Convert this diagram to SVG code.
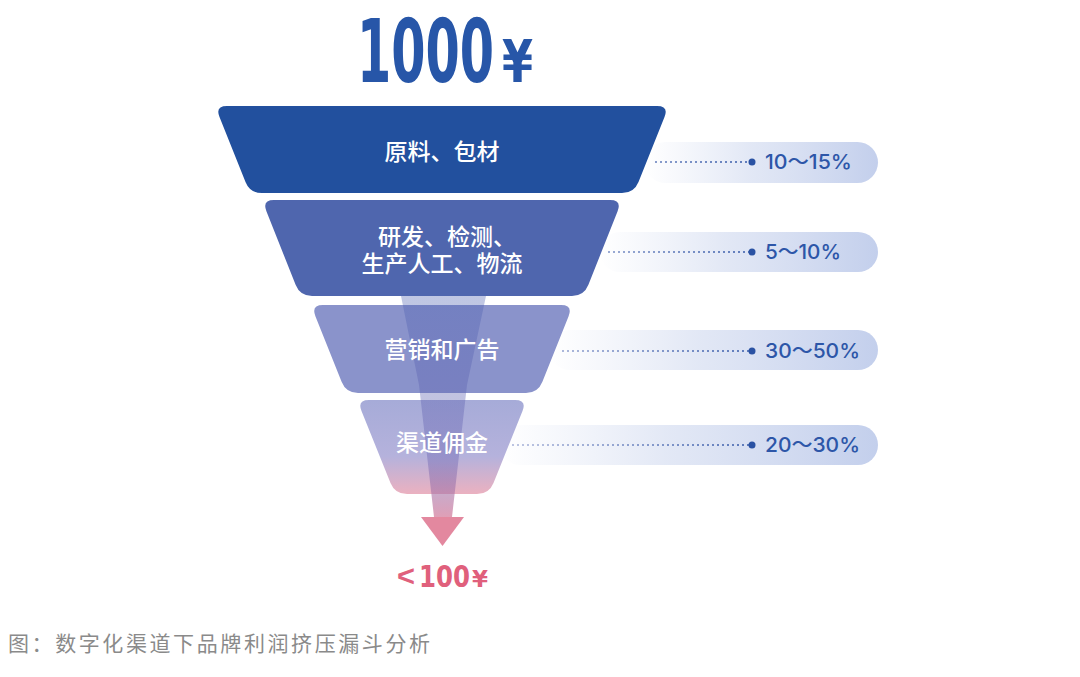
<svg xmlns="http://www.w3.org/2000/svg" width="1080" height="677" viewBox="0 0 1080 677">
<defs>
<linearGradient id="g4" x1="0" y1="0" x2="0" y2="1">
<stop offset="0" stop-color="#a6abd8"/>
<stop offset="0.6" stop-color="#b5b2dc"/>
<stop offset="1" stop-color="#ebb1c0"/>
</linearGradient>
<linearGradient id="band" x1="0" y1="0" x2="0" y2="1">
<stop offset="0" stop-color="#4a5fb0" stop-opacity="0.35"/>
<stop offset="0.75" stop-color="#6a62b0" stop-opacity="0.4"/>
<stop offset="1" stop-color="#d57f9e" stop-opacity="0.75"/>
</linearGradient>
<linearGradient id="pill" x1="0" y1="0" x2="1" y2="0">
<stop offset="0" stop-color="#dfe5f4" stop-opacity="0"/>
<stop offset="0.45" stop-color="#dbe2f3" stop-opacity="0.8"/>
<stop offset="1" stop-color="#c3cfec"/>
</linearGradient>
<linearGradient id="dots" gradientUnits="userSpaceOnUse" x1="520" y1="0" x2="750" y2="0">
<stop offset="0" stop-color="#a7b2d8"/>
<stop offset="1" stop-color="#3458a8"/>
</linearGradient>
</defs>
<style>
.lbl{font-family:"Noto Sans CJK SC","Noto Sans",sans-serif;font-size:23px;fill:#ffffff;font-weight:500}
.pct{font-family:Inter,"Noto Sans","Noto Sans CJK SC",sans-serif;font-size:20px;fill:#2d56a8;font-weight:500}
.dl{stroke:url(#dots);stroke-width:1.6;stroke-dasharray:2 3;fill:none}
.dot{fill:#2a52a3}
.big{font-family:"Liberation Sans Narrow","DejaVu Sans Condensed","Liberation Sans",sans-serif;font-weight:bold}
</style>
<rect width="1080" height="677" fill="#ffffff"/>

<g id="title">
<text class="big" x="357" y="82" font-size="88" fill="#2756a8" textLength="137" lengthAdjust="spacingAndGlyphs">1000</text>
<text class="big" x="502" y="82" font-size="58" fill="#2756a8" textLength="31" lengthAdjust="spacingAndGlyphs">¥</text>
</g>

<g id="pills">
<rect x="645" y="142" width="233" height="41" rx="20.5" fill="url(#pill)"/>
<rect x="600" y="232" width="278" height="40" rx="20" fill="url(#pill)"/>
<rect x="550" y="330" width="328" height="40" rx="20" fill="url(#pill)"/>
<rect x="500" y="425" width="378" height="40" rx="20" fill="url(#pill)"/>
</g>

<g id="connectors">
<line class="dl" x1="655" y1="162" x2="750" y2="162"/>
<circle class="dot" cx="752" cy="162" r="3.5"/>
<line class="dl" x1="608" y1="252" x2="750" y2="252"/>
<circle class="dot" cx="752" cy="252" r="3.5"/>
<line class="dl" x1="562" y1="351" x2="750" y2="351"/>
<circle class="dot" cx="752" cy="351" r="3.5"/>
<line class="dl" x1="512" y1="445" x2="750" y2="445"/>
<circle class="dot" cx="752" cy="445" r="3.5"/>
</g>

<g id="pcts">
<text class="pct" x="765" y="169" textLength="87" lengthAdjust="spacingAndGlyphs">10～15%</text>
<text class="pct" x="765" y="259" textLength="76" lengthAdjust="spacingAndGlyphs">5～10%</text>
<text class="pct" x="765" y="358" textLength="95" lengthAdjust="spacingAndGlyphs">30～50%</text>
<text class="pct" x="765" y="452" textLength="95" lengthAdjust="spacingAndGlyphs">20～30%</text>
</g>

<g id="layer1">
<path d="M 227,106 L 657,106 Q 669,106 664.5,117.1 L 638.5,181.9 Q 634,193 622,193 L 262,193 Q 250,193 245.5,181.9 L 219.5,117.1 Q 215,106 227,106 Z" fill="#22509e"/>
<text class="lbl" x="442" y="160" text-anchor="middle">原料、包材</text>
</g>

<g id="layer2">
<path d="M 274,200 L 610,200 Q 622,200 617.6,211.2 L 588.4,284.8 Q 584,296 572,296 L 312,296 Q 300,296 295.6,284.8 L 266.4,211.2 Q 262,200 274,200 Z" fill="#4f66ae"/>
<text class="lbl" x="378" y="245">研发、检测、</text>
<text class="lbl" x="442" y="272" text-anchor="middle">生产人工、物流</text>
</g>

<g id="layer3">
<path d="M 323,305 L 561,305 Q 573,305 568.6,316.2 L 542.4,381.8 Q 538,393 526,393 L 358,393 Q 346,393 341.6,381.8 L 315.4,316.2 Q 311,305 323,305 Z" fill="#8a93cb"/>
</g>

<g id="layer4">
<path d="M 369,400 L 515,400 Q 527,400 522.5,411.1 L 493.5,482.9 Q 489,494 477,494 L 407,494 Q 395,494 390.5,482.9 L 361.5,411.1 Q 357,400 369,400 Z" fill="url(#g4)"/>
</g>

<g id="arrow">
<polygon points="401,296 486,296 467,385 452,517 434,517 419,385" fill="url(#band)"/>
<polygon points="421,517 464,517 442.5,546" fill="#e3889f"/>
</g>

<g id="labels34">
<text class="lbl" x="442" y="358" text-anchor="middle">营销和广告</text>
<text class="lbl" x="442" y="451" text-anchor="middle">渠道佣金</text>
</g>

<g id="result">
<text x="397" y="586" font-family="'Liberation Sans',sans-serif" font-weight="bold" font-size="30" fill="#e0607c" textLength="18" lengthAdjust="spacingAndGlyphs">&lt;</text>
<text class="big" x="419" y="587" font-size="30" fill="#e0607c" textLength="51" lengthAdjust="spacingAndGlyphs">100</text>
<text class="big" x="472" y="587" font-size="23" fill="#e0607c" textLength="16" lengthAdjust="spacingAndGlyphs">¥</text>
</g>

<text x="8" y="651" font-family="'Noto Sans CJK SC',sans-serif" font-size="21" fill="#8a8a8a" textLength="422">图：数字化渠道下品牌利润挤压漏斗分析</text>
</svg>
